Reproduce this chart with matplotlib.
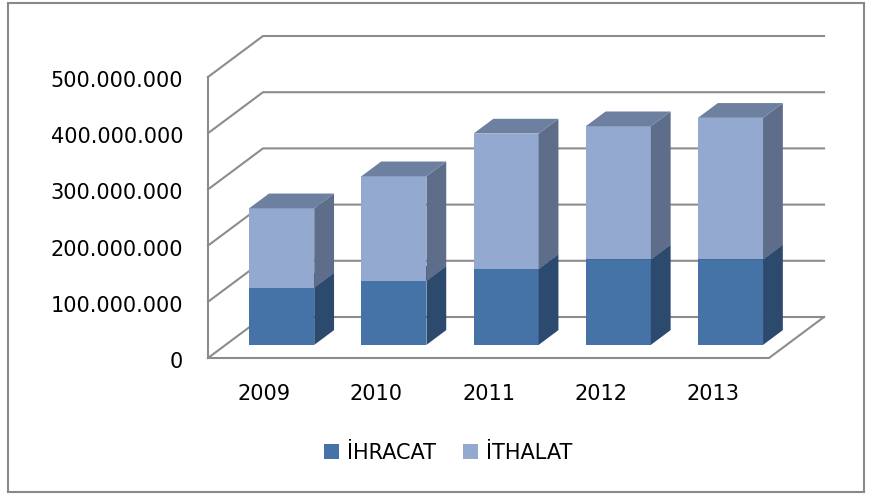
import matplotlib
matplotlib.use('Agg')
import matplotlib.pyplot as plt
from matplotlib.patches import Polygon, Rectangle, Patch
from matplotlib.lines import Line2D
from matplotlib.transforms import ScaledTranslation, IdentityTransform

# data (values in USD thousand)
years = ['2009', '2010', '2011', '2012', '2013']
ihracat = [102e6, 114e6, 135e6, 152e6, 152e6]
ithalat = [141e6, 186e6, 241e6, 237e6, 252e6]
series_names = ['İHRACAT', 'İTHALAT']
y_ticks = [0, 100e6, 200e6, 300e6, 400e6, 500e6]
y_ticklabels = ['0', '100.000.000', '200.000.000', '300.000.000',
                '400.000.000', '500.000.000']

front_colors = ['#4572a7', '#94a9d0']
side_colors = ['#2c4a6e', '#5e6d8a']
top_colors = ['#3b5f8c', '#6e809f']
grid_color = '#8c8c8c'

DPI = 100
W, H = 871, 494
fig = plt.figure(figsize=(W / DPI, H / DPI), dpi=DPI)
ax = fig.add_axes([208 / W, (H - 358) / H, 561 / W, 281 / H])
ax.set_xlim(-0.5, 4.5)
ax.set_ylim(0, 500e6)
ax.axis('off')

DEPTH = (55, 41)          # full floor depth in pixels
BAR_FRONT, BAR_BACK = 0.32, 0.68
bar_w = 0.58


def shift(frac):
    return ax.transData + ScaledTranslation(DEPTH[0] * frac / DPI,
                                            DEPTH[1] * frac / DPI,
                                            fig.dpi_scale_trans)


def pt(x, y, frac):
    return tuple(shift(frac).transform((x, y)))


def line(points, **kw):
    xs, ys = zip(*points)
    ln = Line2D(xs, ys, transform=IdentityTransform(), color=grid_color,
                lw=1.5, clip_on=False, solid_joinstyle='miter', **kw)
    ax.add_artist(ln)


# walls / gridlines
x0, x1 = -0.5, 4.5
for v in y_ticks:
    line([pt(x0, v, 0), pt(x0, v, 1), pt(x1, v, 1)], zorder=1)
line([pt(x0, 500e6, 0), pt(x0, 0, 0), pt(x1, 0, 0), pt(x1, 0, 1)], zorder=1)

# stacked 3d bars
bottoms = [0] * len(years)
for k, vals in enumerate([ihracat, ithalat]):
    for i, v in enumerate(vals):
        b = bottoms[i]
        ax.bar(i, v, bar_w, bottom=b, color=front_colors[k],
               transform=shift(BAR_FRONT), clip_on=False, zorder=3)
        xr = i + bar_w / 2
        xl = i - bar_w / 2
        side = [pt(xr, b, BAR_FRONT), pt(xr, b + v, BAR_FRONT),
                pt(xr, b + v, BAR_BACK), pt(xr, b, BAR_BACK)]
        top = [pt(xl, b + v, BAR_FRONT), pt(xr, b + v, BAR_FRONT),
               pt(xr, b + v, BAR_BACK), pt(xl, b + v, BAR_BACK)]
        ax.add_patch(Polygon(side, closed=True, fc=side_colors[k], ec='none',
                             transform=IdentityTransform(), clip_on=False,
                             zorder=3))
        ax.add_patch(Polygon(top, closed=True, fc=top_colors[k], ec='none',
                             transform=IdentityTransform(), clip_on=False,
                             zorder=3))
        bottoms[i] = b + v

# tick labels
for v, lbl in zip(y_ticks, y_ticklabels):
    ax.annotate(lbl, xy=(x0, v), xytext=(-25, -10), textcoords='offset pixels',
                ha='right', va='baseline', fontsize=15, color='#000000',
                annotation_clip=False)
for i, yr in enumerate(years):
    ax.annotate(yr, xy=(i, 0), xytext=(0, -42), textcoords='offset pixels',
                ha='center', va='baseline', fontsize=15, color='#000000',
                annotation_clip=False)

handles = [Patch(fc=c, ec='none') for c in front_colors]
fig.legend(handles, series_names, loc='center',
           bbox_to_anchor=(448.5 / W, 1 - 452.5 / H), ncol=2, frameon=False,
           fontsize=15, handlelength=0.72, handleheight=0.72,
           handletextpad=0.38, columnspacing=1.3)

fig.add_artist(Rectangle((8 / W, 2 / H), 856 / W, 489 / H,
                         transform=fig.transFigure, fill=False,
                         ec='#898989', lw=1.5))

fig.savefig('out.png', dpi=DPI)
